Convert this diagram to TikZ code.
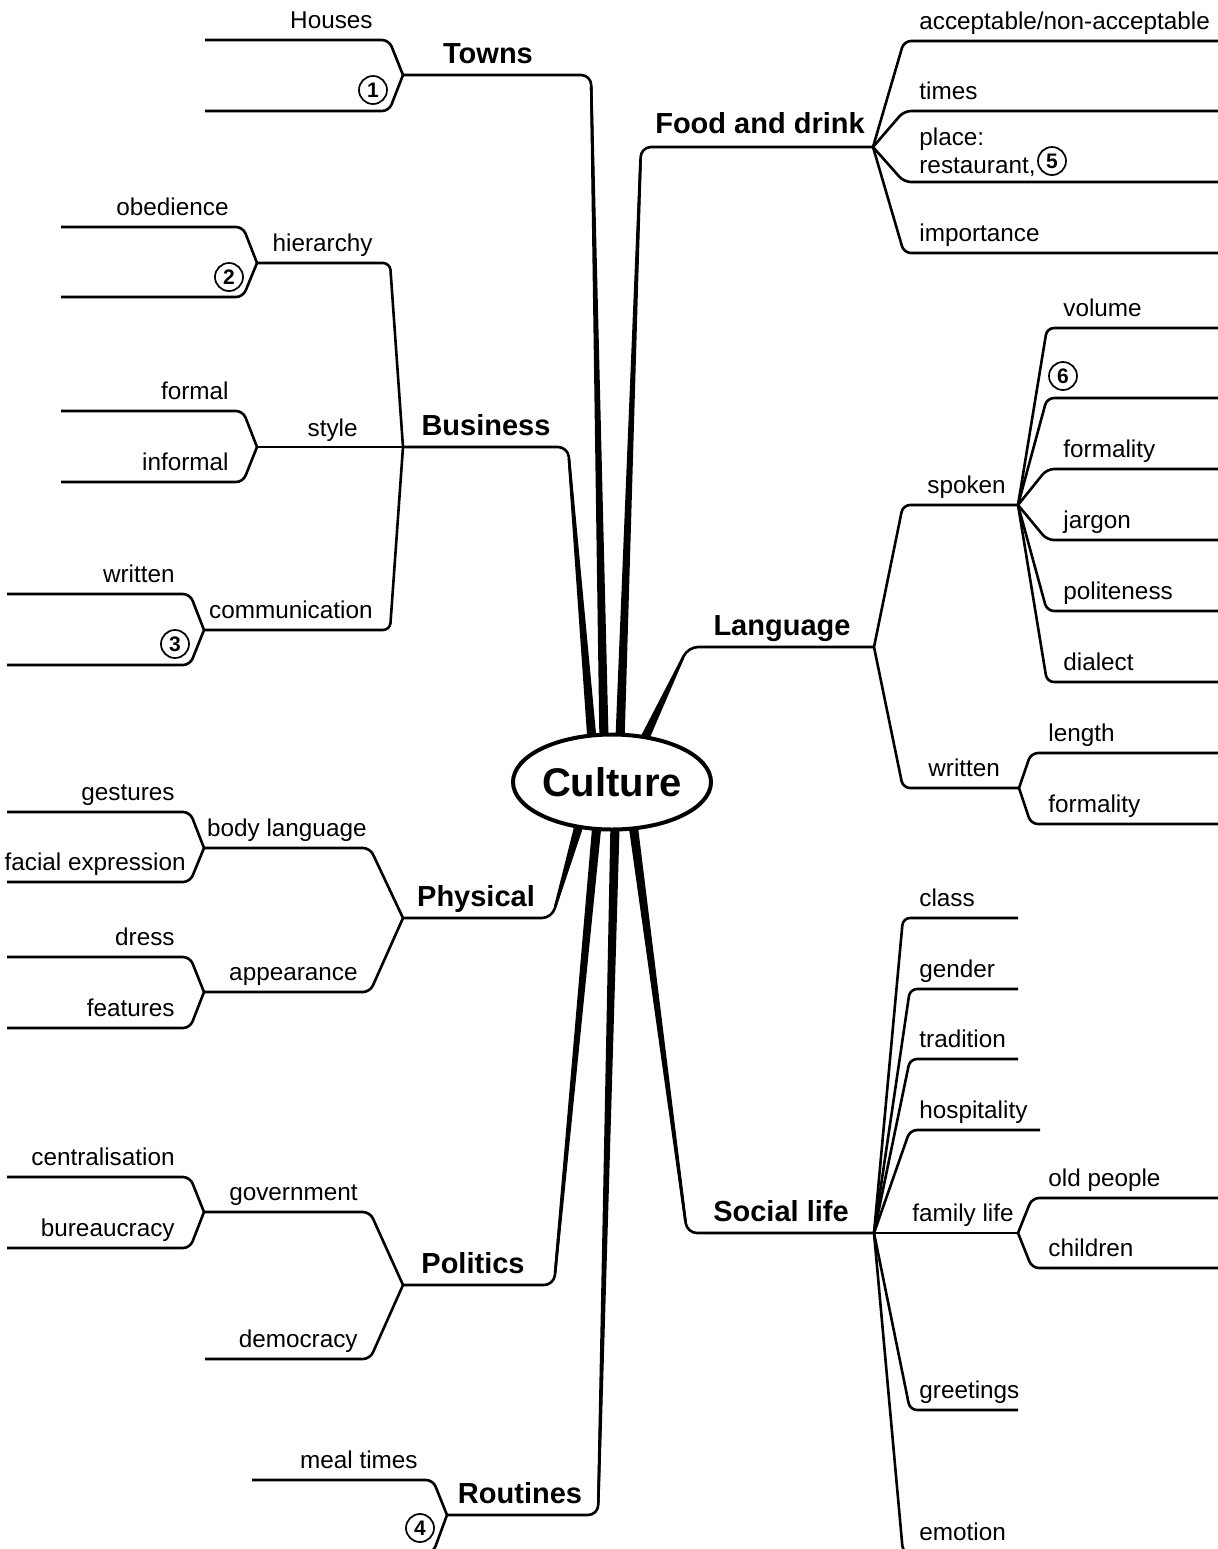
\documentclass[tikz,border=0pt]{standalone}
\usepackage{fontspec}
\setmainfont{Liberation Sans}
\usetikzlibrary{calc,shapes.geometric}

\newcommand\trunk[3]{%
  \path ($(#2)!6pt!(#1)$) coordinate (tip);
  \fill ($(#1)!2.3pt!90:(tip)$) -- ($(tip)!0.65pt!-90:(#1)$) -- ($(tip)!0.65pt!90:(#1)$) -- ($(#1)!2.3pt!-90:(tip)$) -- cycle;
  \draw[branch,rounded corners=5pt] (#1) -- (#2) -- (#3);}
\newcommand\twig[3]{\draw[branch] (#1) -- ($(#1 |- #2)+(#3,0)$) -- (#2);}

\begin{document}
\begin{tikzpicture}[x=0.5pt,y=-0.5pt,
    branch/.style={line width=1.3pt,rounded corners=3.5pt},
    leaf/.style={inner sep=0,font=\fontsize{12.15}{14}\selectfont},
    topic/.style={inner sep=0,font=\bfseries\fontsize{14.5}{17}\selectfont},
    num/.style={circle,draw,line width=0.85pt,inner sep=0,minimum size=14pt,font=\bfseries\fontsize{10.5}{12}\selectfont}]
    \useasboundingbox (0,0) rectangle (1218,1549);
    \clip (0,0) rectangle (1218,1549);

    \coordinate (towns) at (403,75);
    \coordinate (food) at (873,147);
    \coordinate (business) at (403,447);
    \coordinate (language) at (874,647);
    \coordinate (physical) at (403,918);
    \coordinate (social) at (874,1233);
    \coordinate (politics) at (403,1285);
    \coordinate (routines) at (447,1515);

    \coordinate (towns-a) at (604,740);      \coordinate (towns-b) at (591,75);
    \coordinate (food-a) at (620,740);       \coordinate (food-b) at (641,147);
    \coordinate (business-a) at (592,740);   \coordinate (business-b) at (568,447);
    \coordinate (language-a) at (643,742);   \coordinate (language-b) at (688,647);
    \coordinate (physical-a) at (580,822);   \coordinate (physical-b) at (552,918);
    \coordinate (politics-a) at (597,824);   \coordinate (politics-b) at (554,1285);
    \coordinate (routines-a) at (615,826);   \coordinate (routines-b) at (598,1515);
    \coordinate (social-a) at (633,824);     \coordinate (social-b) at (687,1233);

    \trunk{towns-a}{towns-b}{towns}
    \trunk{food-a}{food-b}{food}
    \trunk{business-a}{business-b}{business}
    \trunk{language-a}{language-b}{language}
    \trunk{physical-a}{physical-b}{physical}
    \trunk{politics-a}{politics-b}{politics}
    \trunk{routines-a}{routines-b}{routines}
    \trunk{social-a}{social-b}{social}

    \node[draw,ellipse,line width=2pt,fill=white,inner sep=0,minimum width=89pt,minimum height=47.5pt,
      font=\bfseries\fontsize{20}{24}\selectfont] (culture) at (612,782) {Culture};

    \coordinate (houses) at (205,40);
    \coordinate (one) at (205,111);
    \coordinate (hierarchy) at (257,263);
    \coordinate (obedience) at (61,227);
    \coordinate (two) at (61,297);
    \coordinate (style) at (257,447);
    \coordinate (formal) at (61,411);
    \coordinate (informal) at (61,482);
    \coordinate (comm) at (204,630);
    \coordinate (written) at (7,594);
    \coordinate (three) at (7,665);
    \coordinate (body) at (204,848);
    \coordinate (gestures) at (7,812);
    \coordinate (facial) at (7,882);
    \coordinate (appearance) at (204,992);
    \coordinate (dress) at (7,957);
    \coordinate (features) at (7,1028);
    \coordinate (government) at (204,1212);
    \coordinate (central) at (7,1177);
    \coordinate (bureau) at (7,1248);
    \coordinate (democracy) at (205,1359);
    \coordinate (meal) at (252,1480);
    \coordinate (four) at (252,1553);

    \coordinate (accept) at (1225,41);
    \coordinate (times) at (1225,111);
    \coordinate (place) at (1225,182);
    \coordinate (importance) at (1225,253);
    \coordinate (spoken) at (1018,505);
    \coordinate (volume) at (1225,328);
    \coordinate (six) at (1225,398);
    \coordinate (formality) at (1225,469);
    \coordinate (jargon) at (1225,540);
    \coordinate (politeness) at (1225,611);
    \coordinate (dialect) at (1225,682);
    \coordinate (writ) at (1019,788);
    \coordinate (length) at (1225,753);
    \coordinate (formality2) at (1225,824);
    \coordinate (class) at (1018,918);
    \coordinate (gender) at (1018,989);
    \coordinate (tradition) at (1018,1059);
    \coordinate (hospitality) at (1040,1130);
    \coordinate (family) at (1018,1233);
    \coordinate (old) at (1225,1198);
    \coordinate (children) at (1225,1268);
    \coordinate (greetings) at (1018,1410);
    \coordinate (emotion) at (1018,1553);

    \twig{towns}{houses}{-14}
    \twig{towns}{one}{-14}
    \twig{business}{hierarchy}{-13}
    \draw[branch] (business) -- (style);
    \twig{business}{comm}{-13}
    \twig{hierarchy}{obedience}{-14}
    \twig{hierarchy}{two}{-14}
    \twig{style}{formal}{-14}
    \twig{style}{informal}{-14}
    \twig{comm}{written}{-14}
    \twig{comm}{three}{-14}
    \twig{physical}{body}{-33}
    \twig{physical}{appearance}{-33}
    \twig{body}{gestures}{-14}
    \twig{body}{facial}{-14}
    \twig{appearance}{dress}{-14}
    \twig{appearance}{features}{-14}
    \twig{politics}{government}{-33}
    \twig{politics}{democracy}{-33}
    \twig{government}{central}{-14}
    \twig{government}{bureau}{-14}
    \twig{routines}{meal}{-14}
    \twig{routines}{four}{-14}

    \twig{food}{accept}{31}
    \twig{food}{times}{31}
    \twig{food}{place}{31}
    \twig{food}{importance}{31}
    \twig{language}{spoken}{29}
    \twig{language}{writ}{29}
    \twig{spoken}{volume}{29}
    \twig{spoken}{six}{29}
    \twig{spoken}{formality}{29}
    \twig{spoken}{jargon}{29}
    \twig{spoken}{politeness}{29}
    \twig{spoken}{dialect}{29}
    \twig{writ}{length}{12}
    \twig{writ}{formality2}{12}
    \twig{social}{class}{29}
    \twig{social}{gender}{36}
    \twig{social}{tradition}{36}
    \twig{social}{hospitality}{36}
    \draw[branch] (social) -- (family);
    \twig{social}{greetings}{36}
    \twig{social}{emotion}{29}
    \twig{family}{old}{14}
    \twig{family}{children}{14}

    \node[topic,anchor=base] (towns-t) at (488,63) {Towns};
    \node[topic,anchor=base] (food-t) at (760,133) {Food and drink};
    \node[topic,anchor=base] (business-t) at (486,435) {Business};
    \node[topic,anchor=base] (language-t) at (782,635) {Language};
    \node[topic,anchor=base] (physical-t) at (476,906) {Physical};
    \node[topic,anchor=base] (politics-t) at (473,1273) {Politics};
    \node[topic,anchor=base] (routines-t) at (520,1503) {Routines};
    \node[topic,anchor=base] (social-t) at (781,1221) {Social life};

    \node[leaf,anchor=base east] (houses-t) at (373,28) {Houses};
    \node[leaf,anchor=base east] (hierarchy-t) at (373,251) {hierarchy};
    \node[leaf,anchor=base east] (obedience-t) at (229,215) {obedience};
    \node[leaf,anchor=base east] (style-t) at (358,436) {style};
    \node[leaf,anchor=base east] (formal-t) at (229,399) {formal};
    \node[leaf,anchor=base east] (informal-t) at (229,470) {informal};
    \node[leaf,anchor=base east] (comm-t) at (373,618) {communication};
    \node[leaf,anchor=base east] (written-t) at (175,582) {written};
    \node[leaf,anchor=base east] (body-t) at (367,836) {body language};
    \node[leaf,anchor=base east] (gestures-t) at (175,800) {gestures};
    \node[leaf,anchor=base east] (facial-t) at (186,870) {facial expression};
    \node[leaf,anchor=base east] (appearance-t) at (358,980) {appearance};
    \node[leaf,anchor=base east] (dress-t) at (175,945) {dress};
    \node[leaf,anchor=base east] (features-t) at (175,1016) {features};
    \node[leaf,anchor=base east] (government-t) at (358,1200) {government};
    \node[leaf,anchor=base east] (central-t) at (175,1165) {centralisation};
    \node[leaf,anchor=base east] (bureau-t) at (175,1236) {bureaucracy};
    \node[leaf,anchor=base east] (democracy-t) at (358,1347) {democracy};
    \node[leaf,anchor=base east] (meal-t) at (418,1468) {meal times};

    \node[leaf,anchor=base west] (accept-t) at (919,29) {acceptable/non-acceptable};
    \node[leaf,anchor=base west] (times-t) at (919,99) {times};
    \node[leaf,anchor=base west,align=left] (place-t) at (919,173) {place:\\restaurant,};
    \node[leaf,anchor=base west] (importance-t) at (919,241) {importance};
    \node[leaf,anchor=base west] (spoken-t) at (927,493) {spoken};
    \node[leaf,anchor=base west] (volume-t) at (1063,316) {volume};
    \node[leaf,anchor=base west] (formality-t) at (1063,457) {formality};
    \node[leaf,anchor=base west] (jargon-t) at (1063,528) {jargon};
    \node[leaf,anchor=base west] (politeness-t) at (1063,599) {politeness};
    \node[leaf,anchor=base west] (dialect-t) at (1063,670) {dialect};
    \node[leaf,anchor=base west] (writ-t) at (928,776) {written};
    \node[leaf,anchor=base west] (length-t) at (1048,741) {length};
    \node[leaf,anchor=base west] (formality2-t) at (1048,812) {formality};
    \node[leaf,anchor=base west] (class-t) at (919,906) {class};
    \node[leaf,anchor=base west] (gender-t) at (919,977) {gender};
    \node[leaf,anchor=base west] (tradition-t) at (919,1047) {tradition};
    \node[leaf,anchor=base west] (hospitality-t) at (919,1118) {hospitality};
    \node[leaf,anchor=base west] (family-t) at (912,1221) {family life};
    \node[leaf,anchor=base west] (old-t) at (1048,1186) {old people};
    \node[leaf,anchor=base west] (children-t) at (1048,1256) {children};
    \node[leaf,anchor=base west] (greetings-t) at (919,1398) {greetings};
    \node[leaf,anchor=base west] (emotion-t) at (919,1540) {emotion};

    \node[num] (n1) at (373,90) {1};
    \node[num] (n2) at (229,277) {2};
    \node[num] (n3) at (175,644) {3};
    \node[num] (n4) at (420,1528) {4};
    \node[num] (n5) at (1052,161) {5};
    \node[num] (n6) at (1063,376) {6};
  \end{tikzpicture}
\end{document}
